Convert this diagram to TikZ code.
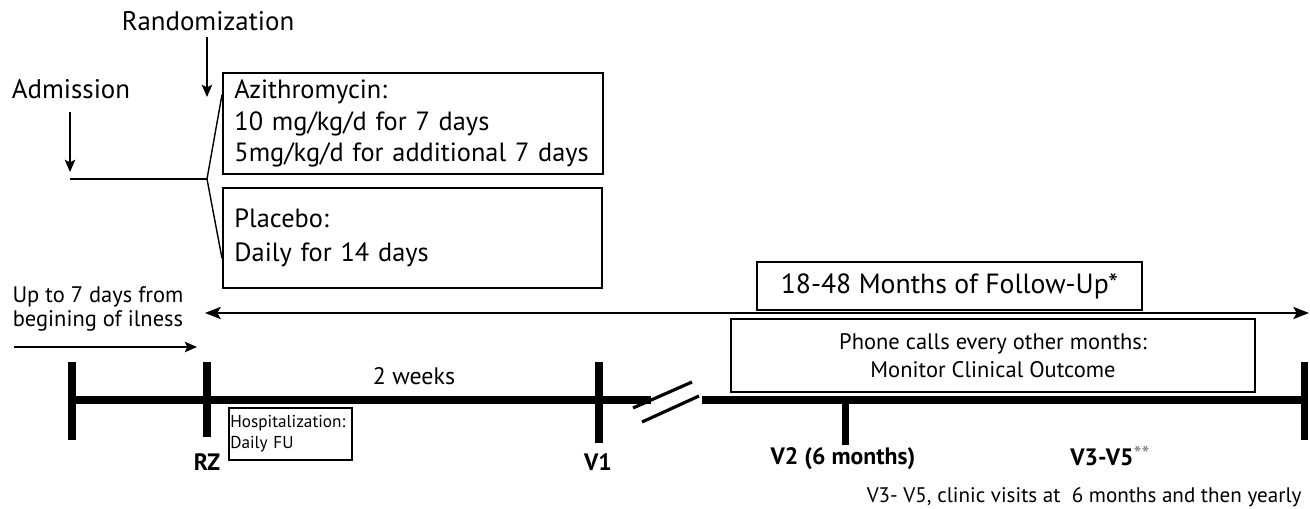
\documentclass[tikz,border=0pt]{standalone}
\usepackage{fontspec}
\setmainfont{PT Sans}
\usetikzlibrary{arrows.meta, positioning, calc}

\begin{document}
\begin{tikzpicture}[x=0.02cm, y=-0.02cm, line width=0.8pt,
    box/.style={draw, line width=1.1pt, inner sep=0pt},
    arr/.style={-{Stealth[length=7pt, width=6pt, inset=1.5pt]}},
    axis/.style={line width=4pt}]
    \useasboundingbox (0,0) rectangle (1310,509);

    % admission and randomisation
    \node[font=\fontsize{15.3}{18}\selectfont] (rand) at (208,21) {Randomization};
    \node[font=\fontsize{15.3}{18}\selectfont] (adm) at (71,89) {Admission};
    \node[box, anchor=north west, minimum width=7.6cm, minimum height=2.02cm, text width=7.14cm, inner xsep=0.23cm, align=left, font=\fontsize{15}{17.8}\selectfont] (azi) at (222,72) {Azithromycin:\\10 mg/kg/d for 7 days\\5mg/kg/d for additional 7 days};
    \node[box, anchor=north west, minimum width=7.58cm, minimum height=2cm, text width=7.12cm, inner xsep=0.23cm, align=left, font=\fontsize{15}{19.5}\selectfont] (plac) at (222,187) {Placebo:\\Daily for 14 days};

    \coordinate (randtip) at (207,97);
    \coordinate (admtip) at (70,172);
    \coordinate (admline) at (70,179);
    \coordinate (split) at (207,179);
    \draw[arr] (rand.south -| randtip) -- (randtip);
    \draw[arr] ([yshift=-4pt]adm.south -| admtip) -- (admtip);
    \draw (admline) -- (split);
    \draw (split) -- ($(azi.north west)!0.22!(azi.south west)$);
    \draw (split) -- ($(plac.north west)!0.7!(plac.south west)$);

    % follow-up
    \node[align=center, font=\fontsize{12.8}{13.8}\selectfont] (upto) at (98,309) {Up to 7 days from\\begining of ilness};
    \coordinate (prestart) at (14,347);
    \coordinate (preend) at (197,347);
    \draw[arr] (prestart) -- (preend);
    \coordinate (fustart) at (205,313);
    \coordinate (fuend) at (1309,313);
    \draw[{Stealth[length=9pt, width=7pt, inset=2pt]}-{Stealth[length=9pt, width=7pt, inset=2pt]}] (fustart) -- (fuend);
    \node[box, minimum width=7.7cm, minimum height=0.96cm, font=\fontsize{15.8}{18}\selectfont] (fu) at (949.5,286) {18-48 Months of Follow-Up*};
    \node[box, minimum width=10.48cm, minimum height=1.46cm, align=center, font=\fontsize{12.8}{16}\selectfont] (phone) at (993,355.5) {Phone calls every other months:\\Monitor Clinical Outcome};

    % timeline
    \coordinate (t0) at (72,400);
    \coordinate (brk1) at (651,400);
    \coordinate (brk2) at (702,400);
    \coordinate (tend) at (1308,400);
    \draw[axis] (t0) -- (brk1);
    \draw[axis] (brk2) -- (tend);
    \foreach \x/\a/\b in {72/362/440, 207/362/437, 599/362/443, 845/400/445, 1304.5/362/440}
        \draw[axis] (\x,\a) -- (\x,\b);
    \draw[line width=1.8pt] (633,408) -- (692,382);
    \draw[line width=1.8pt] (642,422) -- (699,396);

    \node[font=\fontsize{13.6}{15}\selectfont] (weeks) at (414,376) {2 weeks};
    \node[box, line width=0.9pt, anchor=north west, minimum width=2.46cm, minimum height=1.04cm, text width=2.4cm, inner xsep=0.03cm, align=left, font=\fontsize{9.8}{12}\selectfont] (hosp) at (228,407) {Hospitalization:\\Daily FU};

    \node[font=\bfseries\fontsize{13.5}{15}\selectfont] (rz) at (207,462) {RZ};
    \node[font=\bfseries\fontsize{13.5}{15}\selectfont] (v1) at (598,462) {V1};
    \node[font=\bfseries\fontsize{13.5}{15}\selectfont] (v2) at (843,459) {V2 (6 months)};
    \node[font=\bfseries\fontsize{13.5}{15}\selectfont] (v35) at (1110,456) {V3-V5\raisebox{2pt}{\mdseries\color{gray}\fontsize{13}{13}\selectfont **}};
    \node[anchor=east, font=\fontsize{12}{14}\selectfont] (note) at (1308,497) {V3- V5, clinic visits at~ 6 months and then yearly};
\end{tikzpicture}
\end{document}
